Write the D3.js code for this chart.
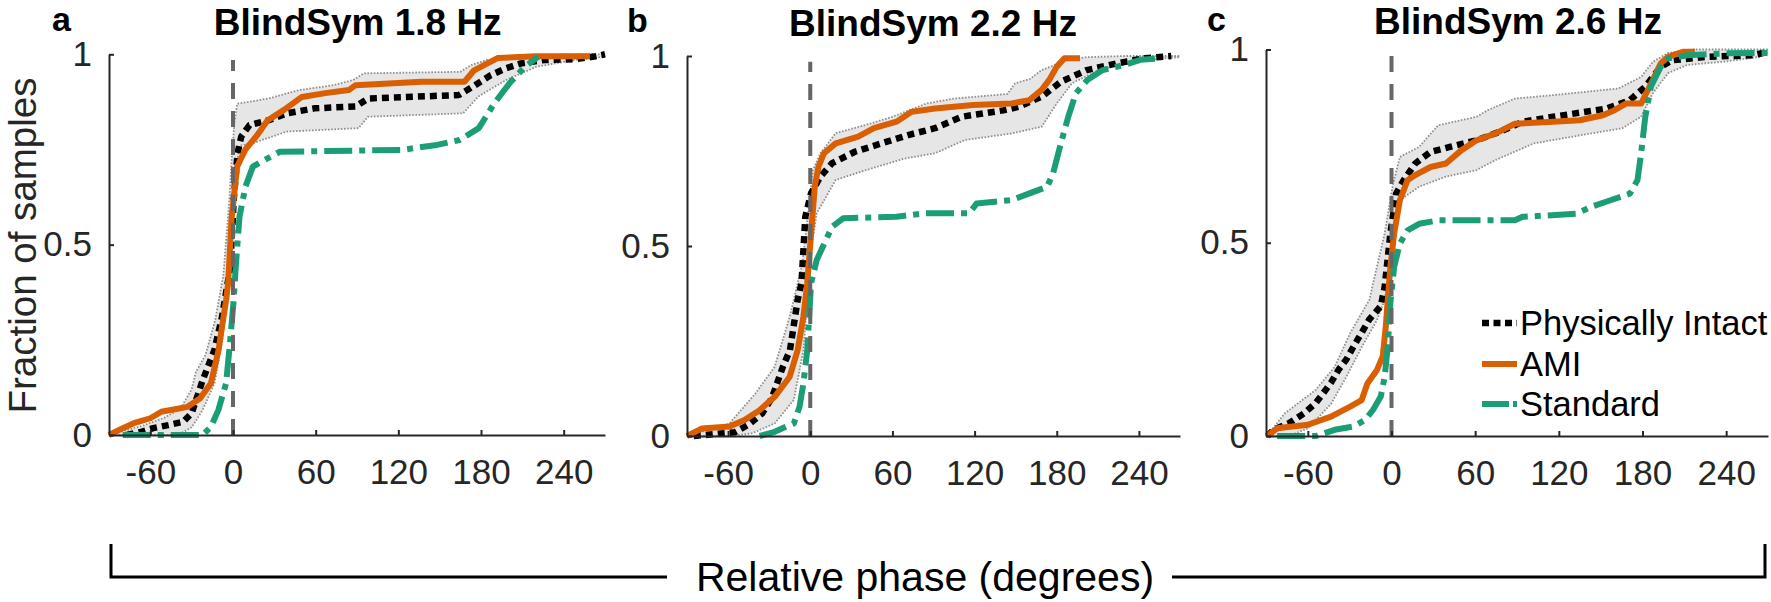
<!DOCTYPE html>
<html><head><meta charset="utf-8">
<script src="https://cdn.jsdelivr.net/npm/d3@7"></script>
<style>
html,body{margin:0;padding:0;background:#fff;}
svg{display:block;font-family:"Liberation Sans",Arial,sans-serif;}
</style></head>
<body>
<svg id="chart" width="1771" height="602"></svg>
<script>
// ---------------- DATA ----------------
const phaseTicks = [-60, 0, 60, 120, 180, 240];
const fracTicks = [0, 0.5, 1];
const panelLetters = ["a", "b", "c"];
const panelTitles = ["BlindSym 1.8 Hz", "BlindSym 2.2 Hz", "BlindSym 2.6 Hz"];
const seriesNames = ["Physically Intact", "AMI", "Standard"];
const xLabel = "Relative phase (degrees)";
const yLabel = "Fraction of samples";

// Panel a (1.8 Hz): [phase, fraction]
const intactA = [[-77,0],[-66,0.009],[-58,0.018],[-47,0.026],[-36,0.035],[-30,0.057],[-22,0.144],[-13.5,0.223],[-8,0.31],[-2,0.44],[0.5,0.617],[3.3,0.74],[6,0.784],[12,0.814],[26,0.827],[39,0.845],[59,0.858],[89,0.863],[98,0.884],[164,0.893],[170,0.906],[187,0.945],[198,0.963],[209,0.976],[226,0.985],[248,0.987],[262,0.994],[270,1]];
const amiA = [[-90,0],[-80,0.018],[-72,0.031],[-60,0.044],[-52,0.061],[-33,0.074],[-24,0.096],[-16,0.136],[-10.5,0.223],[-5,0.355],[-3.5,0.4],[-1,0.57],[3,0.705],[9,0.75],[17,0.785],[25,0.826],[37,0.854],[50,0.888],[67,0.898],[84,0.906],[89,0.919],[137,0.928],[168,0.928],[175,0.958],[184,0.975],[192,0.99],[220,0.995],[259,0.995]];
const standardA = [[-80,0],[-22,0],[-16,0.022],[-10.6,0.066],[-5,0.136],[-2.2,0.241],[0.5,0.355],[2,0.442],[4.7,0.573],[9,0.652],[14.4,0.705],[22.7,0.722],[34,0.744],[123,0.749],[148,0.762],[164.5,0.775],[178.4,0.806],[189.6,0.871],[200.7,0.924],[211.8,0.967],[221.5,0.994]];
const bandUpperA = [[-90,0],[-80,0.01],[-65,0.025],[-50,0.045],[-38,0.07],[-30,0.12],[-27,0.165],[-20,0.21],[-13,0.3],[-7,0.42],[-3,0.6],[-1,0.72],[1,0.82],[3,0.87],[26,0.884],[48,0.906],[73,0.919],[87,0.932],[95,0.95],[165,0.954],[173,0.972],[184,0.985],[215,0.992],[240,1],[270,1]];
const bandLowerA = [[-90,0],[-40,0],[-30,0.02],[-22,0.066],[-13.4,0.136],[-7.8,0.25],[-3,0.42],[0,0.58],[2,0.7],[5,0.76],[14,0.766],[39,0.797],[91,0.806],[98,0.836],[167,0.845],[178,0.889],[198,0.932],[220,0.967],[248,0.985],[262,0.99],[270,0.995]];

// Panel b (2.2 Hz)
const intactB = [[-85,0],[-70,0.005],[-55,0.01],[-45,0.03],[-35,0.06],[-28,0.1],[-20,0.182],[-14.8,0.226],[-9.2,0.358],[-6.4,0.402],[-3.6,0.577],[0.6,0.639],[7.5,0.683],[16,0.718],[32.6,0.748],[52,0.77],[71.5,0.792],[91,0.81],[110.5,0.84],[141,0.857],[152,0.866],[169,0.893],[183,0.932],[202,0.963],[224.6,0.981],[244,0.994],[263.6,1]];
const amiB = [[-90,0],[-79,0.02],[-59,0.025],[-48,0.042],[-37,0.068],[-26,0.103],[-15,0.156],[-9.2,0.226],[-5,0.314],[-2.2,0.402],[0.6,0.533],[3.3,0.656],[6,0.709],[10,0.744],[18.6,0.77],[35,0.788],[46.5,0.81],[63,0.827],[74,0.853],[91,0.862],[119,0.871],[147,0.875],[160,0.884],[169,0.911],[174.5,0.937],[180,0.972],[185.6,0.994],[197,0.994]];
const standardB = [[-37,0],[-26,0.011],[-17.5,0.025],[-12,0.033],[-7.8,0.077],[-5,0.138],[-2.2,0.226],[-0.8,0.314],[0.6,0.402],[4.7,0.463],[10.3,0.507],[16,0.551],[24,0.573],[63,0.577],[83,0.586],[116,0.586],[121.6,0.612],[147,0.621],[160.6,0.639],[173,0.656],[177.3,0.691],[183,0.77],[188.4,0.84],[194,0.902],[202.3,0.937],[213.5,0.963],[230,0.977],[241,0.99],[255,0.994]];
const bandUpperB = [[-90,0],[-80,0.01],[-59,0.033],[-40,0.112],[-26,0.182],[-15,0.314],[-6,0.45],[-1,0.6],[2,0.7],[7.5,0.744],[18.6,0.797],[41,0.819],[60,0.84],[85,0.875],[105,0.888],[144,0.9],[149.5,0.928],[160.6,0.94],[169,0.963],[188,0.989],[202,0.997],[230,1],[270,1]];
const bandLowerB = [[-90,0],[-59,0],[-42.6,0.007],[-26,0.033],[-12,0.095],[-5,0.226],[-2.2,0.358],[1,0.5],[4.7,0.586],[18.6,0.674],[41,0.7],[68.7,0.73],[91,0.744],[113,0.779],[147,0.796],[169,0.814],[180,0.875],[191,0.928],[210.7,0.963],[230,0.98],[258,0.994],[270,0.997]];

// Panel c (2.6 Hz)
const intactC = [[-89,0],[-84.6,0.016],[-73.6,0.033],[-62.6,0.059],[-54.4,0.085],[-48.9,0.111],[-43.4,0.138],[-37.9,0.172],[-32.4,0.198],[-27,0.233],[-21.4,0.267],[-15.9,0.302],[-7.7,0.336],[-4.9,0.386],[-0.8,0.524],[3.3,0.627],[8.8,0.662],[17,0.705],[28,0.735],[41.8,0.748],[61,0.765],[77.5,0.787],[94,0.813],[116,0.826],[154,0.847],[171,0.869],[182,0.904],[193,0.955],[201,0.972],[226,0.981],[259,0.985],[270,0.994]];
const amiC = [[-89,0],[-82,0.02],[-60,0.029],[-43.4,0.05],[-29.7,0.076],[-21.4,0.093],[-17.3,0.136],[-10.4,0.171],[-6.3,0.206],[-4.1,0.283],[-2.7,0.352],[-0.8,0.438],[1.9,0.524],[6,0.61],[11.5,0.662],[17,0.675],[28,0.696],[39,0.705],[50,0.739],[61,0.765],[74.7,0.783],[88.5,0.808],[116,0.813],[135,0.817],[151.6,0.83],[160,0.843],[168,0.86],[179,0.86],[187.4,0.921],[193,0.964],[198.4,0.981],[209,0.994],[217.6,0.994]];
const standardC = [[-82,0],[-54,0],[-40.7,0.016],[-27,0.025],[-18.7,0.042],[-13.2,0.068],[-7.7,0.102],[-4.9,0.153],[-2.7,0.23],[-0.8,0.345],[1.9,0.438],[6,0.498],[11.5,0.532],[19.8,0.549],[33.5,0.558],[88.5,0.558],[94,0.567],[132.4,0.575],[143.4,0.593],[157,0.61],[171,0.627],[176.4,0.662],[179,0.731],[182,0.826],[186,0.904],[193,0.955],[198.4,0.977],[212,0.985],[239.6,0.99],[270,0.991]];
const bandUpperC = [[-90,0],[-85,0.02],[-76.4,0.059],[-54.4,0.119],[-40.7,0.179],[-29.7,0.266],[-15.9,0.352],[-13.2,0.395],[-4.9,0.524],[1,0.65],[6,0.722],[19.8,0.748],[33.5,0.804],[61,0.826],[69,0.843],[88.5,0.873],[116,0.882],[162.6,0.899],[179,0.929],[187.4,0.968],[198.4,0.991],[215,1],[270,1]];
const bandLowerC = [[-90,0],[-73.6,0],[-59.9,0.02],[-43.4,0.083],[-32.4,0.153],[-21.4,0.23],[-10.4,0.3],[-4.9,0.352],[-0.8,0.438],[6,0.61],[19.8,0.645],[39,0.671],[61,0.688],[74.7,0.714],[102,0.757],[143.4,0.783],[165.4,0.796],[179,0.826],[187.4,0.887],[198.4,0.939],[212,0.96],[239.6,0.969],[264,0.981],[270,0.99]];

const panelData = [
  {intact: intactA, ami: amiA, standard: standardA, up: bandUpperA, lo: bandLowerA},
  {intact: intactB, ami: amiB, standard: standardB, up: bandUpperB, lo: bandLowerB},
  {intact: intactC, ami: amiC, standard: standardC, up: bandUpperC, lo: bandLowerC}
];

// ---------------- LAYOUT / STYLE ----------------
const layout = [
  {left: 109, right: 605, top: 54.3, bottom: 435, titleX: 357.7, titleY: 35, letterX: 52, letterY: 31},
  {left: 687, right: 1180, top: 56, bottom: 436, titleX: 933, titleY: 36, letterX: 627, letterY: 32},
  {left: 1266, right: 1768, top: 49.5, bottom: 436, titleX: 1518, titleY: 34, letterX: 1207, letterY: 31}
];
const COLORS = {intact: "#000000", ami: "#D95F02", standard: "#1B9E77", band: "#e6e6e6", bandEdge: "#8f8f8f", axis: "#262626", zero: "#666666"};
const STYLES = {
  intact:   {color: COLORS.intact, dash: "7,5", width: 6.5},
  ami:      {color: COLORS.ami, dash: null, width: 6},
  standard: {color: COLORS.standard, dash: "28,7,6,7", width: 6}
};

const svg = d3.select("#chart");

layout.forEach((L, i) => {
  const D = panelData[i];
  const x = d3.scaleLinear().domain([-90, 270]).range([L.left, L.right]);
  const y = d3.scaleLinear().domain([0, 1]).range([L.bottom, L.top]);
  const g = svg.append("g");
  const line = d3.line().x(d => x(d[0])).y(d => y(d[1]));

  // confidence band
  const poly = D.up.concat(D.lo.slice().reverse());
  g.append("path").attr("d", line(poly) + "Z").attr("fill", COLORS.band).attr("stroke", "none");
  [D.up, D.lo].forEach(b => g.append("path").attr("d", line(b)).attr("fill", "none")
    .attr("stroke", COLORS.bandEdge).attr("stroke-width", 1.8).attr("stroke-dasharray", "1.6,1.6"));

  // series
  ["intact", "ami", "standard"].forEach(k => {
    const s = STYLES[k];
    g.append("path").attr("d", line(D[k])).attr("fill", "none")
      .attr("stroke", s.color).attr("stroke-width", s.width)
      .attr("stroke-linejoin", "round")
      .attr("stroke-dasharray", s.dash);
  });

  // zero reference line
  g.append("line").attr("x1", x(0)).attr("x2", x(0)).attr("y1", y(0)).attr("y2", y(0.985))
    .attr("stroke", COLORS.zero).attr("stroke-width", 4).attr("stroke-dasharray", "16,12");

  // axes
  const xa = g.append("g").attr("transform", `translate(0,${L.bottom})`)
    .call(d3.axisBottom(x).tickValues(phaseTicks).tickSize(-5).tickSizeOuter(0).tickPadding(24).tickFormat(d => d));
  const ya = g.append("g").attr("transform", `translate(${L.left},0)`)
    .call(d3.axisLeft(y).tickValues(fracTicks).tickSize(-5).tickSizeOuter(0).tickPadding(17).tickFormat(d => d));
  [xa, ya].forEach(a => {
    a.select(".domain").attr("stroke", COLORS.axis).attr("stroke-width", 2);
    a.selectAll(".tick line").attr("stroke", COLORS.axis).attr("stroke-width", 2);
    a.selectAll(".tick text").attr("fill", COLORS.axis).style("font-size", "35px")
      .style("font-family", '"Liberation Sans", Arial, sans-serif');
  });

  // title & letter
  g.append("text").attr("x", L.titleX).attr("y", L.titleY).attr("text-anchor", "middle")
    .style("font-size", "37px").style("font-weight", "bold").attr("fill", "#000").text(panelTitles[i]);
  g.append("text").attr("x", L.letterX).attr("y", L.letterY)
    .style("font-size", "34px").style("font-weight", "bold").attr("fill", "#000").text(panelLetters[i]);

  // legend in last panel
  if (i === 2) {
    const ly = [335, 376, 416];
    ["intact", "ami", "standard"].forEach((k, j) => {
      const s = STYLES[k];
      g.append("line").attr("x1", 1482).attr("x2", 1517).attr("y1", ly[j] - 12).attr("y2", ly[j] - 12)
        .attr("stroke", s.color).attr("stroke-width", s.width)
        .attr("stroke-dasharray", k === "intact" ? "7,4.5" : (k === "standard" ? "27,4,4,4" : null));
      g.append("text").attr("x", 1520).attr("y", ly[j]).style("font-size", "34.5px")
        .attr("fill", "#000").text(seriesNames[j]);
    });
  }
});

// shared y label
svg.append("text").attr("transform", "translate(35.5,245.5) rotate(-90)").attr("text-anchor", "middle")
  .style("font-size", "38.5px").attr("fill", "#262626").text(yLabel);

// shared x label with bracket
svg.append("path").attr("d", "M111,544 V577 H667 M1172,577 H1765 V544")
  .attr("fill", "none").attr("stroke", "#000").attr("stroke-width", 3);
svg.append("text").attr("x", 925).attr("y", 591).attr("text-anchor", "middle")
  .style("font-size", "41px").attr("fill", "#000").text(xLabel);
</script>
</body></html>
